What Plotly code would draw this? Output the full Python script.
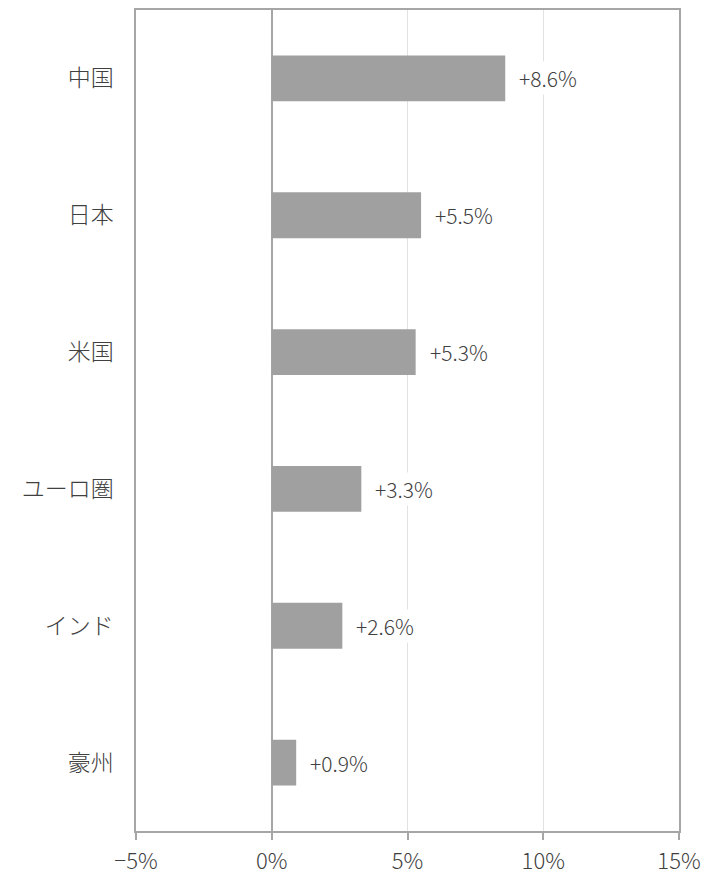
import plotly.graph_objects as go

categories = ["中国", "日本", "米国", "ユーロ圏", "インド", "豪州"]
values = [8.6, 5.5, 5.3, 3.3, 2.6, 0.9]
labels = ["+8.6%", "+5.5%", "+5.3%", "+3.3%", "+2.6%", "+0.9%"]
x_ticks = [-5, 0, 5, 10, 15]
x_tick_text = ["−5%", "0%", "5%", "10%", "15%"]

FONT = "Noto Sans CJK JP"

fig = go.Figure(go.Bar(
    x=values, y=categories, orientation="h",
    marker=dict(color="#a0a0a0", line=dict(width=0)),
    width=0.335, hoverinfo="skip",
))

for v, c, t in zip(values, categories, labels):
    fig.add_annotation(x=v, y=c, text=t, showarrow=False, xanchor="left",
                       xshift=12, bgcolor="white",
                       font=dict(family=FONT, size=21, color="#404040", weight=300))

fig.update_layout(
    width=726, height=876,
    margin=dict(l=128, r=55, t=0, b=53),
    plot_bgcolor="white", paper_bgcolor="white",
    showlegend=False,
    font=dict(family=FONT, color="#404040"),
    xaxis=dict(
        range=[-5, 15], tickvals=x_ticks, ticktext=x_tick_text,
        showgrid=True, gridcolor="#e2e2e2", gridwidth=1,
        zeroline=True, zerolinecolor="#a6a6a6", zerolinewidth=1.5,
        showline=True, linecolor="#a6a6a6", linewidth=1.5, mirror=True,
        ticks="outside", ticklen=7, tickcolor="#a6a6a6", tickwidth=1.5,
        ticklabelstandoff=3,
        tickfont=dict(family=FONT, size=22, color="#404040", weight=300),
        fixedrange=True,
    ),
    yaxis=dict(
        categoryorder="array", categoryarray=categories[::-1],
        showgrid=False, zeroline=False,
        showline=True, linecolor="#a6a6a6", linewidth=1.5, mirror=True,
        ticks="", ticklabelstandoff=16,
        tickfont=dict(family=FONT, size=23, color="#404040", weight=300),
        fixedrange=True,
    ),
)

fig.write_html("out.html")
